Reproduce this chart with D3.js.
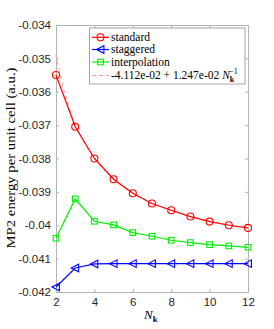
<!DOCTYPE html>
<html>
<head>
<meta charset="utf-8">
<script src="https://cdn.jsdelivr.net/npm/d3@7"></script>
<style>
  body { margin: 0; background: #fff; }
  svg { display: block; }
  .tick text { font-family: "Liberation Sans", Arial, sans-serif; font-size: 11.5px; fill: #262626; }
</style>
</head>
<body>
<svg width="274" height="329"></svg>
<script>
// data
const nk = [2, 3, 4, 5, 6, 7, 8, 9, 10, 11, 12];
const standard = [-0.0355, -0.03705, -0.0380, -0.03862, -0.03904, -0.03935, -0.03955, -0.03974, -0.03989, -0.0400, -0.04008];
const staggered = [-0.04185, -0.04128, -0.04116, -0.04115, -0.04115, -0.04115, -0.04115, -0.04115, -0.04115, -0.04115, -0.04115];
const interpolation = [-0.04039, -0.03921, -0.03988, -0.03999, -0.04022, -0.04033, -0.04045, -0.04052, -0.04058, -0.04062, -0.04066];
// fit from the legend: a + b / N
const fitA = -4.112e-02, fitB = 1.247e-02;
const xTicks = [2, 4, 6, 8, 10, 12];
const yTicks = [-0.042, -0.041, -0.04, -0.039, -0.038, -0.037, -0.036, -0.035, -0.034];

const SERIF = '"Liberation Serif", "Times New Roman", "DejaVu Serif", serif';

let svg = d3.select("svg");
let margin = { top: 25, right: 26, bottom: 37, left: 56 };
let width = 274 - margin.left - margin.right;
let height = 329 - margin.top - margin.bottom;

let x = d3.scaleLinear().domain([2, 12]).range([0, width]);
let y = d3.scaleLinear().domain([-0.042, -0.034]).range([height, 0]);

let chart = svg.append("g").attr("transform", "translate(" + margin.left + "," + margin.top + ")");

let fmt = d => String(+d.toFixed(3));

// axes (box with inward ticks)
let xAxis = chart.append("g").attr("transform", "translate(0," + height + ")")
  .call(d3.axisBottom(x).tickValues(xTicks).tickSizeInner(-3).tickSizeOuter(0).tickPadding(6));
let xTop = chart.append("g")
  .call(d3.axisTop(x).tickValues(xTicks).tickSizeInner(-3).tickSizeOuter(0).tickFormat(""));
let yAxis = chart.append("g")
  .call(d3.axisLeft(y).tickValues(yTicks).tickSizeInner(-3).tickSizeOuter(0).tickPadding(5).tickFormat(fmt));
let yRight = chart.append("g").attr("transform", "translate(" + width + ",0)")
  .call(d3.axisRight(y).tickValues(yTicks).tickSizeInner(-3).tickSizeOuter(0).tickFormat(""));
[xAxis, xTop, yAxis, yRight].forEach(a => {
  a.select(".domain").attr("stroke", "#b3b3b3");
  a.selectAll(".tick line").attr("stroke", "#b3b3b3");
});

// fit curve
let fitN = d3.range(2, 12.01, 0.1);
chart.append("path")
  .datum(fitN)
  .attr("fill", "none")
  .attr("stroke", "#ff9a9a")
  .attr("stroke-width", 1)
  .attr("stroke-dasharray", "4,3")
  .attr("d", d3.line().x(d => x(d)).y(d => y(fitA + fitB / d)));

let series = [
  { name: "standard", values: standard, color: "#ff0000", marker: "circle" },
  { name: "staggered", values: staggered, color: "#0000ff", marker: "triangle" },
  { name: "interpolation", values: interpolation, color: "#00ee00", marker: "square" }
];

function drawMarker(g, type, color) {
  if (type === "circle") {
    g.append("circle").attr("r", 3.5).attr("fill", "none").attr("stroke", color).attr("stroke-width", 1.1);
  } else if (type === "square") {
    g.append("rect").attr("x", -2.8).attr("y", -2.8).attr("width", 5.6).attr("height", 5.6)
      .attr("fill", "none").attr("stroke", color).attr("stroke-width", 1.1);
  } else {
    g.append("path").attr("d", "M-4,0L3.4,-3.8L3.4,3.8Z")
      .attr("fill", "none").attr("stroke", color).attr("stroke-width", 1.1);
  }
}

series.forEach(s => {
  chart.append("path")
    .datum(s.values)
    .attr("fill", "none")
    .attr("stroke", s.color)
    .attr("stroke-width", 1.2)
    .attr("d", d3.line().x((d, i) => x(nk[i])).y(d => y(d)));
  s.values.forEach((v, i) => {
    let g = chart.append("g").attr("transform", "translate(" + x(nk[i]) + "," + y(v) + ")");
    drawMarker(g, s.marker, s.color);
  });
});

// legend
let legend = svg.append("g").attr("transform", "translate(89.5,28)");
legend.append("rect").attr("width", 155.5).attr("height", 56)
  .attr("fill", "#fff").attr("stroke", "#8c8c8c").attr("stroke-width", 0.8);
let rows = [9.3, 21.5, 34, 47.5];
series.forEach((s, i) => {
  let ry = rows[i];
  legend.append("line").attr("x1", 2.5).attr("x2", 19.5).attr("y1", ry).attr("y2", ry)
    .attr("stroke", s.color).attr("stroke-width", 1.2);
  drawMarker(legend.append("g").attr("transform", "translate(11," + ry + ")"), s.marker, s.color);
  legend.append("text").style("font-family", SERIF).attr("x", 21.5).attr("y", ry + 3.8)
    .attr("font-size", 11.5).text(s.name);
});
legend.append("line").attr("x1", 2.5).attr("x2", 19.5).attr("y1", rows[3]).attr("y2", rows[3])
  .attr("stroke", "#ff9a9a").attr("stroke-width", 1).attr("stroke-dasharray", "4,3");
let ft = legend.append("text").style("font-family", SERIF).attr("x", 21.5).attr("y", rows[3] + 3.8).attr("font-size", 11.5);
ft.append("tspan").text(fitA.toExponential(3).replace("e-2", "e-02") + " + " + fitB.toExponential(3).replace("e-2", "e-02") + " ");
ft.append("tspan").attr("font-style", "italic").text("N");
ft.append("tspan").attr("font-weight", "bold").attr("font-size", 8).attr("dy", 2.5).text("k");
ft.append("tspan").attr("font-size", 8).attr("dx", -5).attr("dy", -8).text("\u22121");

// y label
svg.append("text").style("font-family", SERIF)
  .attr("transform", "translate(15," + (margin.top + height / 2 - 0.5) + ") rotate(-90)")
  .attr("text-anchor", "middle").attr("font-size", 12.5)
  .attr("textLength", 181).attr("lengthAdjust", "spacingAndGlyphs")
  .text("MP2 energy per unit cell (a.u.)");

// x label
let xl = svg.append("text").style("font-family", SERIF).attr("x", 144).attr("y", 319).attr("font-size", 13);
xl.append("tspan").attr("font-style", "italic").text("N");
xl.append("tspan").attr("font-weight", "bold").attr("font-size", 8.5).attr("dy", 2.5).text("k");
</script>
</body>
</html>
